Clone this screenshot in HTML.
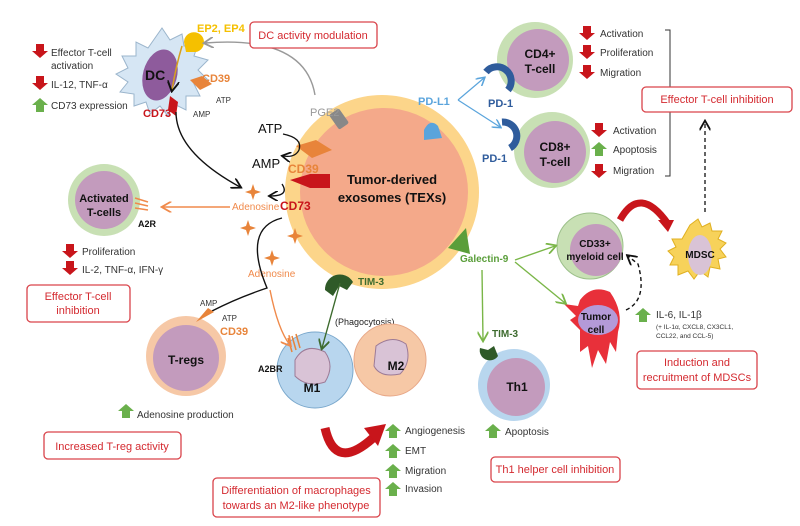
<!DOCTYPE html>
<html><head><meta charset="utf-8"><style>
body{margin:0;background:#fff}
svg{display:block}
text{font-family:"Liberation Sans",sans-serif}
.b{font-weight:bold}
.box{fill:#fff;stroke:#d9434a;stroke-width:1.3}
.bt{fill:#d42a30;font-size:11px}
.li{fill:#333;font-size:10px}
</style></head><body>
<svg width="800" height="526" viewBox="0 0 800 526" xmlns="http://www.w3.org/2000/svg">
<defs>
<marker id="ak" markerWidth="8" markerHeight="8" refX="6" refY="4" orient="auto"><path d="M0,0 L7,4 L0,8" fill="none" stroke="#111" stroke-width="1.3"/></marker>
<marker id="ao" markerWidth="8" markerHeight="8" refX="6" refY="4" orient="auto"><path d="M0,0 L7,4 L0,8" fill="none" stroke="#f08a4b" stroke-width="1.3"/></marker>
<marker id="ag" markerWidth="8" markerHeight="8" refX="6" refY="4" orient="auto"><path d="M0,0 L7,4 L0,8" fill="none" stroke="#7ab648" stroke-width="1.3"/></marker>
<marker id="adg" markerWidth="8" markerHeight="8" refX="6" refY="4" orient="auto"><path d="M0,0 L7,4 L0,8" fill="none" stroke="#3d6b2e" stroke-width="1.3"/></marker>
<marker id="ab" markerWidth="8" markerHeight="8" refX="6" refY="4" orient="auto"><path d="M0,0 L7,4 L0,8" fill="none" stroke="#5aa4dc" stroke-width="1.3"/></marker>
<marker id="agr" markerWidth="8" markerHeight="8" refX="6" refY="4" orient="auto"><path d="M0,0 L7,4 L0,8" fill="none" stroke="#999" stroke-width="1.3"/></marker>
<g id="up"><path d="M-4,0 h8 v-7 h4 l-8,-7 l-8,7 h4z" fill="#6ab04c"/></g>
<g id="dn"><path d="M-4,-14 h8 v7 h4 l-8,7 l-8,-7 h4z" fill="#c8151b"/></g>
</defs>

<!-- Exosome -->
<circle cx="382" cy="192" r="97" fill="#fcd58a"/>
<circle cx="384" cy="192" r="84" fill="#f4a98a"/>
<text x="392" y="184" class="b" font-size="13" text-anchor="middle" fill="#111">Tumor-derived</text>
<text x="392" y="202" class="b" font-size="13" text-anchor="middle" fill="#111">exosomes (TEXs)</text>
<rect x="333" y="110" width="12" height="18" rx="2" fill="#888" transform="rotate(-35 339 119)"/>
<path d="M424,130 q6,-12 14,-4 l4,12 -18,2z" fill="#5aa4dc"/>
<path d="M448,248 l18,-20 l4,26z" fill="#5a9e3a"/>
<path d="M325,290 a15,15 0 0 1 28,-8 l-6,8 l-8,-4 l-6,10z" fill="#2f5a28"/>
<path d="M296,146 l20,-6 l16,10 -20,8z" fill="#e8843a"/>
<path d="M290,180 l20,-6 h20 v14 h-20z" fill="#c8151b"/>

<text x="258" y="133" font-size="13" fill="#111">ATP</text>
<text x="252" y="168" font-size="13" fill="#111">AMP</text>
<text x="288" y="173" class="b" font-size="12" fill="#e8843a">CD39</text>
<text x="280" y="210" class="b" font-size="12" fill="#c8151b">CD73</text>
<text x="232" y="210" font-size="10" fill="#f08a4b">Adenosine</text>
<text x="310" y="116" font-size="11" fill="#999">PGE2</text>
<text x="418" y="105" class="b" font-size="11" fill="#5aa4dc">PD-L1</text>
<text x="460" y="262" class="b" font-size="10" fill="#5a9e3a">Galectin-9</text>
<text x="358" y="285" class="b" font-size="10" fill="#3d6b2e">TIM-3</text>
<path d="M283,134 q20,4 16,16 q-4,8 -16,6" fill="none" stroke="#111" stroke-width="1.3" marker-end="url(#ak)"/>
<path d="M282,184 q8,12 -12,12" fill="none" stroke="#111" stroke-width="1.3" marker-end="url(#ak)"/>
<g fill="#e8843a">
<path d="M253,184 l2,6 6,2 -6,2 -2,6 -2,-6 -6,-2 6,-2z"/>
<path d="M248,220 l2,6 6,2 -6,2 -2,6 -2,-6 -6,-2 6,-2z"/>
<path d="M295,228 l2,6 6,2 -6,2 -2,6 -2,-6 -6,-2 6,-2z"/>
<path d="M272,250 l2,6 6,2 -6,2 -2,6 -2,-6 -6,-2 6,-2z"/>
</g>
<text x="248" y="277" font-size="10" fill="#f08a4b">Adenosine</text>

<!-- DC -->
<g transform="translate(2,8)">
<path d="M160,20 l8,12 12,-6 2,12 14,-2 -4,12 14,4 -10,10 10,10 -14,4 6,12 -14,0 0,14 -12,-6 -6,12 -8,-10 -10,8 -4,-12 -12,4 0,-12 -14,-2 8,-10 -12,-8 12,-6 -6,-12 14,0 0,-14 12,6z" fill="#d6e6f4" stroke="#9bb5cc"/>
<ellipse cx="158" cy="67" rx="17" ry="26" fill="#8e5b9c" transform="rotate(15 158 67)"/>
<text x="143" y="72" class="b" font-size="14" fill="#111">DC</text>
<path d="M180,38 q-6,20 -10,44" fill="none" stroke="#d6a020" stroke-width="1.5" marker-end="url(#ak)"/>
</g>
<path d="M184,42 a10,10 0 1 1 12,10 l-10,0z" fill="#f5c000"/>
<text x="197" y="32" class="b" font-size="11" fill="#f5c000">EP2, EP4</text>
<path d="M190,80 l12,-4 10,8 -12,6z" fill="#e8843a"/>
<text x="202" y="82" class="b" font-size="11" fill="#e8843a">CD39</text>
<text x="216" y="103" font-size="8" fill="#333">ATP</text>
<text x="193" y="117" font-size="8" fill="#333">AMP</text>
<path d="M170,96 l8,6 -2,14 -8,-6z" fill="#c8151b"/>
<text x="143" y="117" class="b" font-size="11" fill="#c8151b">CD73</text>
<path d="M315,95 q-10,-60 -110,-52" fill="none" stroke="#999" stroke-width="1.4" marker-end="url(#agr)"/>
<path d="M176,112 q0,40 64,75" fill="none" stroke="#111" stroke-width="1.4" marker-end="url(#ak)"/>
<path d="M282,218 q-40,10 -15,70 q-30,10 -55,23" fill="none" stroke="#111" stroke-width="1.4"/>

<g class="li">
<use href="#dn" x="40" y="58"/><text x="51" y="56">Effector T-cell</text><text x="51" y="69">activation</text>
<use href="#dn" x="40" y="90"/><text x="51" y="88">IL-12, TNF-α</text>
<use href="#up" x="40" y="112"/><text x="51" y="109">CD73 expression</text>
</g>
<rect x="250" y="22" width="127" height="26" rx="4" class="box"/>
<text x="313" y="39" class="bt" text-anchor="middle">DC activity modulation</text>

<!-- Activated T-cells -->
<circle cx="104" cy="200" r="36" fill="#c8e0b4"/>
<circle cx="104" cy="200" r="29" fill="#c39bbd"/>
<text x="104" y="202" class="b" font-size="11" text-anchor="middle" fill="#111">Activated</text>
<text x="104" y="216" class="b" font-size="11" text-anchor="middle" fill="#111">T-cells</text>
<g stroke="#f08a4b" stroke-width="1.5"><line x1="135" y1="198" x2="148" y2="202"/><line x1="135" y1="203" x2="148" y2="206"/><line x1="135" y1="208" x2="148" y2="210"/></g>
<text x="138" y="227" class="b" font-size="9" fill="#111">A2R</text>
<line x1="230" y1="207" x2="163" y2="207" stroke="#f08a4b" stroke-width="1.4" marker-end="url(#ao)"/>
<g class="li">
<use href="#dn" x="70" y="258"/><text x="82" y="255">Proliferation</text>
<use href="#dn" x="70" y="275"/><text x="82" y="273">IL-2, TNF-α, IFN-γ</text>
</g>
<rect x="27" y="285" width="103" height="37" rx="4" class="box"/>
<text x="78" y="300" class="bt" text-anchor="middle">Effector T-cell</text>
<text x="78" y="314" class="bt" text-anchor="middle">inhibition</text>

<!-- T-regs -->
<circle cx="186" cy="356" r="40" fill="#f6c8a6"/>
<circle cx="186" cy="358" r="33" fill="#c39bbd"/>
<text x="186" y="364" class="b" font-size="12" text-anchor="middle" fill="#111">T-regs</text>
<path d="M196,322 l12,-14 6,4z" fill="#e8843a"/>
<text x="200" y="306" font-size="8" fill="#333">AMP</text>
<text x="222" y="321" font-size="8" fill="#333">ATP</text>
<text x="220" y="335" class="b" font-size="11" fill="#e8843a">CD39</text>
<use href="#up" x="126" y="418"/><text x="137" y="418" class="li">Adenosine production</text>
<rect x="44" y="432" width="137" height="27" rx="4" class="box"/>
<text x="112" y="450" class="bt" text-anchor="middle">Increased T-reg activity</text>

<!-- M1 -->
<circle cx="315" cy="370" r="38" fill="#b8d6ee" stroke="#7aa8cc"/>
<path d="M295,360 q10,-18 30,-8 q10,14 0,30 q-18,6 -30,-6z" fill="#d9c3d6" stroke="#9c7a96"/>
<text x="312" y="392" class="b" font-size="12" text-anchor="middle" fill="#111">M1</text>
<g stroke="#e8843a" stroke-width="1.5"><line x1="288" y1="338" x2="292" y2="352"/><line x1="292" y1="336" x2="296" y2="350"/><line x1="296" y1="334" x2="300" y2="348"/></g>
<text x="258" y="372" class="b" font-size="9" fill="#111">A2BR</text>
<path d="M270,290 q8,40 20,55" fill="none" stroke="#f08a4b" stroke-width="1.4" marker-end="url(#ao)"/>
<line x1="340" y1="283" x2="322" y2="348" stroke="#3d6b2e" stroke-width="1.4" marker-end="url(#adg)"/>
<text x="335" y="325" font-size="9" fill="#222">(Phagocytosis)</text>
<!-- M2 -->
<circle cx="390" cy="360" r="36" fill="#f6c8a6" stroke="#e8a888"/>
<path d="M376,346 q16,-12 30,-2 q6,18 -6,30 q-20,4 -26,-8z" fill="#d9c3d6" stroke="#9c7a96"/>
<text x="396" y="370" class="b" font-size="12" text-anchor="middle" fill="#111">M2</text>
<path d="M325,428 q10,44 48,10" fill="none" stroke="#c8151b" stroke-width="9"/>
<path d="M364,428 l22,-4 -8,22z" fill="#c8151b"/>
<g class="li">
<use href="#up" x="393" y="438"/><text x="405" y="434">Angiogenesis</text>
<use href="#up" x="393" y="458"/><text x="405" y="454">EMT</text>
<use href="#up" x="393" y="478"/><text x="405" y="474">Migration</text>
<use href="#up" x="393" y="496"/><text x="405" y="492">Invasion</text>
</g>
<rect x="213" y="478" width="167" height="39" rx="4" class="box"/>
<text x="296" y="494" class="bt" text-anchor="middle">Differentiation of macrophages</text>
<text x="296" y="509" class="bt" text-anchor="middle">towards an M2-like phenotype</text>

<!-- CD4 / CD8 -->
<circle cx="535" cy="60" r="38" fill="#c8e0b4"/>
<circle cx="538" cy="60" r="31" fill="#c39bbd"/>
<text x="540" y="58" class="b" font-size="12" text-anchor="middle" fill="#111">CD4+</text>
<text x="540" y="73" class="b" font-size="12" text-anchor="middle" fill="#111">T-cell</text>
<path d="M486,72 a14,14 0 0 1 22,18" fill="none" stroke="#2f5c9c" stroke-width="7"/>
<text x="488" y="107" class="b" font-size="11" fill="#2f5c9c">PD-1</text>
<circle cx="552" cy="150" r="38" fill="#c8e0b4"/>
<circle cx="555" cy="152" r="31" fill="#c39bbd"/>
<text x="555" y="151" class="b" font-size="12" text-anchor="middle" fill="#111">CD8+</text>
<text x="555" y="166" class="b" font-size="12" text-anchor="middle" fill="#111">T-cell</text>
<path d="M502,122 a14,14 0 0 1 8,26" fill="none" stroke="#2f5c9c" stroke-width="7"/>
<text x="482" y="162" class="b" font-size="11" fill="#2f5c9c">PD-1</text>
<line x1="458" y1="100" x2="484" y2="78" stroke="#5aa4dc" stroke-width="1.2" marker-end="url(#ab)"/>
<line x1="458" y1="100" x2="500" y2="127" stroke="#5aa4dc" stroke-width="1.2" marker-end="url(#ab)"/>
<g class="li">
<use href="#dn" x="587" y="40"/><text x="600" y="37">Activation</text>
<use href="#dn" x="587" y="59"/><text x="600" y="56">Proliferation</text>
<use href="#dn" x="587" y="79"/><text x="600" y="76">Migration</text>
<use href="#dn" x="599" y="137"/><text x="613" y="134">Activation</text>
<use href="#up" x="599" y="156"/><text x="613" y="153">Apoptosis</text>
<use href="#dn" x="599" y="178"/><text x="613" y="174">Migration</text>
</g>
<path d="M665,30 h5 v146 h-5" fill="none" stroke="#333" stroke-width="1"/>
<rect x="642" y="87" width="150" height="25" rx="4" class="box"/>
<text x="717" y="103" class="bt" text-anchor="middle">Effector T-cell inhibition</text>
<line x1="705" y1="212" x2="705" y2="122" stroke="#222" stroke-width="1.4" stroke-dasharray="4,3" marker-end="url(#ak)"/>

<!-- CD33 / MDSC / Tumor -->
<circle cx="590" cy="246" r="33" fill="#c8e0b4" stroke="#9cc08a"/>
<circle cx="596" cy="250" r="26" fill="#c39bbd"/>
<text x="595" y="247" class="b" font-size="10" text-anchor="middle" fill="#111">CD33+</text>
<text x="595" y="260" class="b" font-size="10" text-anchor="middle" fill="#111">myeloid cell</text>
<path d="M620,220 q20,-36 48,4" fill="none" stroke="#c8151b" stroke-width="7"/>
<path d="M658,220 l16,0 -6,12z" fill="#c8151b"/>
<path d="M690,225 l8,-6 4,8 8,-4 2,8 10,0 -4,8 8,4 -6,6 6,8 -8,2 2,10 -10,-2 -2,10 -8,-6 -6,8 -6,-8 -10,4 0,-10 -8,0 4,-8 -6,-6 8,-4 -4,-8 10,0z" fill="#f7d25a" stroke="#e0b020"/>
<ellipse cx="700" cy="255" rx="12" ry="20" fill="#d9c3d6"/>
<text x="700" y="258" class="b" font-size="10" text-anchor="middle" fill="#111">MDSC</text>
<path d="M580,300 q12,-16 30,-8 q14,20 8,40 l-2,20 -6,-10 -4,22 -8,-14 -6,18 -4,-22 -8,6 0,-22 -10,-10 6,-4 -12,-12 14,2z" fill="#e8303a"/>
<ellipse cx="598" cy="320" rx="20" ry="15" fill="#b49ad8"/>
<text x="596" y="320" class="b" font-size="10" text-anchor="middle" fill="#111">Tumor</text>
<text x="596" y="333" class="b" font-size="10" text-anchor="middle" fill="#111">cell</text>
<path d="M626,310 q22,-10 12,-46 l-10,-8" fill="none" stroke="#111" stroke-width="1.4" stroke-dasharray="4,3" marker-end="url(#ak)"/>
<line x1="515" y1="260" x2="555" y2="246" stroke="#7ab648" stroke-width="1.4" marker-end="url(#ag)"/>
<line x1="515" y1="262" x2="565" y2="303" stroke="#7ab648" stroke-width="1.4" marker-end="url(#ag)"/>
<line x1="482" y1="270" x2="483" y2="340" stroke="#7ab648" stroke-width="1.4" marker-end="url(#ag)"/>
<use href="#up" x="643" y="322"/>
<text x="656" y="318" font-size="10" fill="#333">IL-6, IL-1β</text>
<text x="656" y="329" font-size="6.5" fill="#333">(+ IL-1α, CXCL8, CX3CL1,</text>
<text x="656" y="338" font-size="6.5" fill="#333">CCL22, and CCL-5)</text>
<rect x="637" y="351" width="120" height="38" rx="4" class="box"/>
<text x="697" y="366" class="bt" text-anchor="middle">Induction and</text>
<text x="697" y="381" class="bt" text-anchor="middle">recruitment of MDSCs</text>

<!-- Th1 -->
<circle cx="514" cy="385" r="36" fill="#b8d6ee"/>
<circle cx="516" cy="387" r="29" fill="#c39bbd"/>
<text x="517" y="391" class="b" font-size="12" text-anchor="middle" fill="#111">Th1</text>
<path d="M480,348 a10,10 0 0 0 18,8 l-4,-10 -6,4z" fill="#2f5a28"/>
<text x="492" y="337" class="b" font-size="10" fill="#3d6b2e">TIM-3</text>
<use href="#up" x="493" y="438"/><text x="505" y="435" class="li">Apoptosis</text>
<rect x="491" y="457" width="129" height="25" rx="4" class="box"/>
<text x="555" y="473" class="bt" text-anchor="middle">Th1 helper cell inhibition</text>
</svg>
</body></html>
